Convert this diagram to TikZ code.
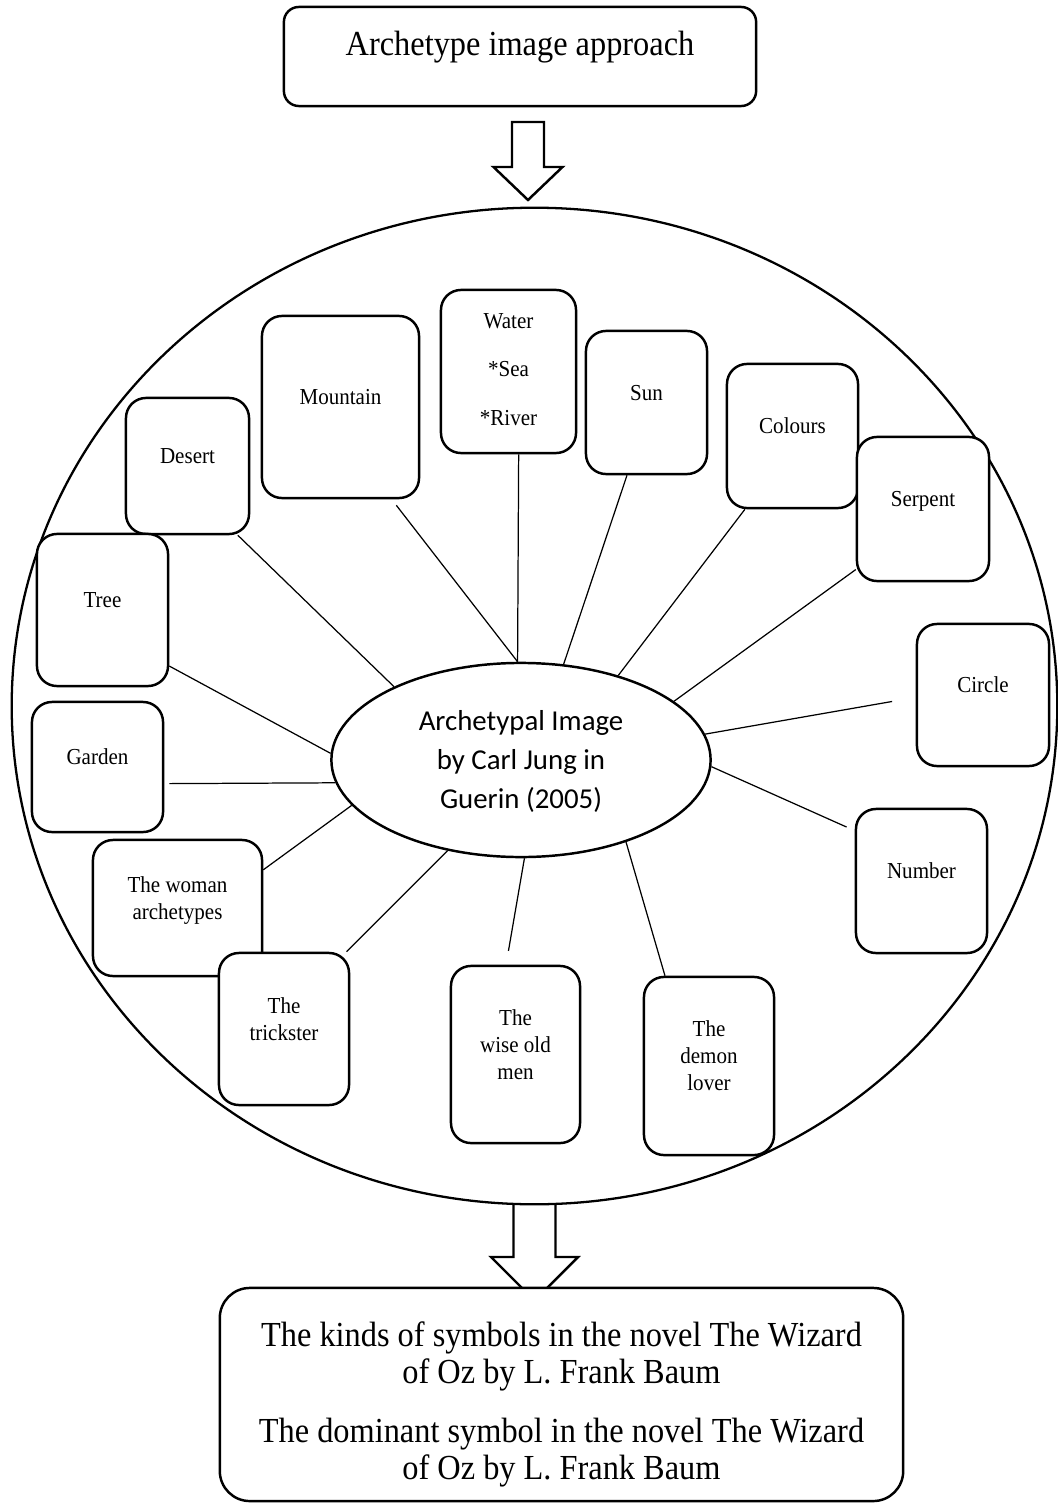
\documentclass[tikz,border=0pt]{standalone}
\usepackage{fontspec}
\setmainfont{Liberation Serif}[FakeStretch=0.92]
\newfontfamily\jungfont{Carlito}
\usepackage{tikz}
\usetikzlibrary{shapes.geometric}

\newcommand{\boxtext}[2][0.7pt]{\raisebox{#1}[0pt][0pt]{\begin{tabular}{@{}c@{}}#2\end{tabular}}}

\begin{document}
\begin{tikzpicture}[x=0.01cm, y=-0.01cm,
    symbox/.style={rectangle, draw, line width=0.7pt, fill=white, rounded corners=0.2cm, inner sep=0pt, font=\fontsize{6.5}{7.7}\selectfont},
    mainbox/.style={rectangle, draw, line width=0.7pt, fill=white, inner sep=0pt, font=\fontsize{10}{10.5}\selectfont},
    link/.style={line width=0.35pt},
    blockarrow/.style={line width=0.7pt, line join=miter}
]
    \useasboundingbox (0,0) rectangle (1058,1503);

    \node[mainbox, rounded corners=0.15cm, minimum width=4.72cm, minimum height=0.99cm] (approach) at (520,56.5) {\boxtext[0pt]{Archetype image approach}};
    \draw[blockarrow] (512,122) -- (544,122) -- (544,167) -- (562.5,167) -- (528,200) -- (493.5,167) -- (512,167) -- cycle;

    \node[ellipse, draw, line width=0.65pt, minimum width=10.45cm, minimum height=9.96cm, inner sep=0pt] (frame) at (534.5,706) {};

    \node[ellipse, draw, line width=0.7pt, fill=white, minimum width=3.79cm, minimum height=1.94cm, inner sep=0pt, font=\jungfont\fontsize{8.2}{11.1}\selectfont] (jung) at (521,760) {\boxtext[-2.5pt]{Archetypal Image\\by Carl Jung in\\Guerin (2005)}};

    % symbols round the centre
    \node[symbox, minimum width=1.23cm, minimum height=1.36cm] (desert) at (187.5,466) {\boxtext{Desert}};
    \node[symbox, minimum width=1.57cm, minimum height=1.82cm] (mountain) at (340.5,407) {\boxtext{Mountain}};
    \node[symbox, minimum width=1.35cm, minimum height=1.63cm] (water) at (508.5,371.5) {\boxtext[-1.5pt]{Water\\[6pt]*Sea\\[6pt]*River}};
    \node[symbox, minimum width=1.21cm, minimum height=1.43cm] (sun) at (646.5,402.5) {\boxtext{Sun}};
    \node[symbox, minimum width=1.31cm, minimum height=1.44cm] (colours) at (792.5,436) {\boxtext{Colours}};
    \node[symbox, minimum width=1.32cm, minimum height=1.44cm] (serpent) at (923,509) {\boxtext{Serpent}};
    \node[symbox, minimum width=1.32cm, minimum height=1.42cm] (circ) at (983,695) {\boxtext{Circle}};
    \node[symbox, minimum width=1.31cm, minimum height=1.44cm] (number) at (921.5,881) {\boxtext{Number}};
    \node[symbox, minimum width=1.30cm, minimum height=1.78cm] (demon) at (709,1066) {\boxtext{The\\demon\\lover}};
    \node[symbox, minimum width=1.29cm, minimum height=1.77cm] (wise) at (515.5,1054.5) {\boxtext{The\\wise old\\men}};
    \node[symbox, minimum width=1.69cm, minimum height=1.36cm] (woman) at (177.5,908) {\boxtext{The woman\\archetypes}};
    \node[symbox, minimum width=1.30cm, minimum height=1.52cm] (trickster) at (284,1029) {\boxtext{The\\trickster}};
    \node[symbox, minimum width=1.31cm, minimum height=1.30cm] (garden) at (97.5,767) {\boxtext{Garden}};
    \node[symbox, minimum width=1.31cm, minimum height=1.52cm] (tree) at (102.5,610) {\boxtext{Tree}};

    \draw[link] (desert.-54) -- (jung.150);
    \draw[link, shorten <=0.076cm] (mountain.-61) -- (jung.92);
    \draw[link] (water.-83) -- (jung.92);
    \draw[link] (sun.-105) -- (jung.66);
    \draw[link] (colours.-123) -- (jung.41);
    \draw[link] (serpent.-138) -- (jung.21);
    \draw[link, shorten <=0.24cm] (circ.-178) -- (jung.8);
    \draw[link, shorten <=0.09cm] (number.143) -- (jung.-2);
    \draw[link] (demon.116) -- (jung.-38);
    \draw[link, shorten <=0.14cm] (wise.96) -- (jung.-88);
    \draw[link] (trickster.51) -- (jung.-129);
    \draw[link] (woman.24) -- (jung.-165);
    \draw[link, shorten <=0.05cm] (garden.-14) -- (jung.-173);
    \draw[link] (tree.-40) -- (jung.178);

    \draw[blockarrow] (513.5,1204) -- (513.5,1257) -- (491,1257) -- (534.5,1300.5) -- (578,1257) -- (555.5,1257) -- (555.5,1204);
    \node[mainbox, rounded corners=0.3cm, minimum width=6.83cm, minimum height=2.13cm] (kinds) at (561.5,1394.5) {\boxtext[-5.6pt]{The kinds of symbols in the novel The Wizard\\of Oz by L. Frank Baum\\[6.3pt]The dominant symbol in the novel The Wizard\\of Oz by L. Frank Baum}};
\end{tikzpicture}
\end{document}
